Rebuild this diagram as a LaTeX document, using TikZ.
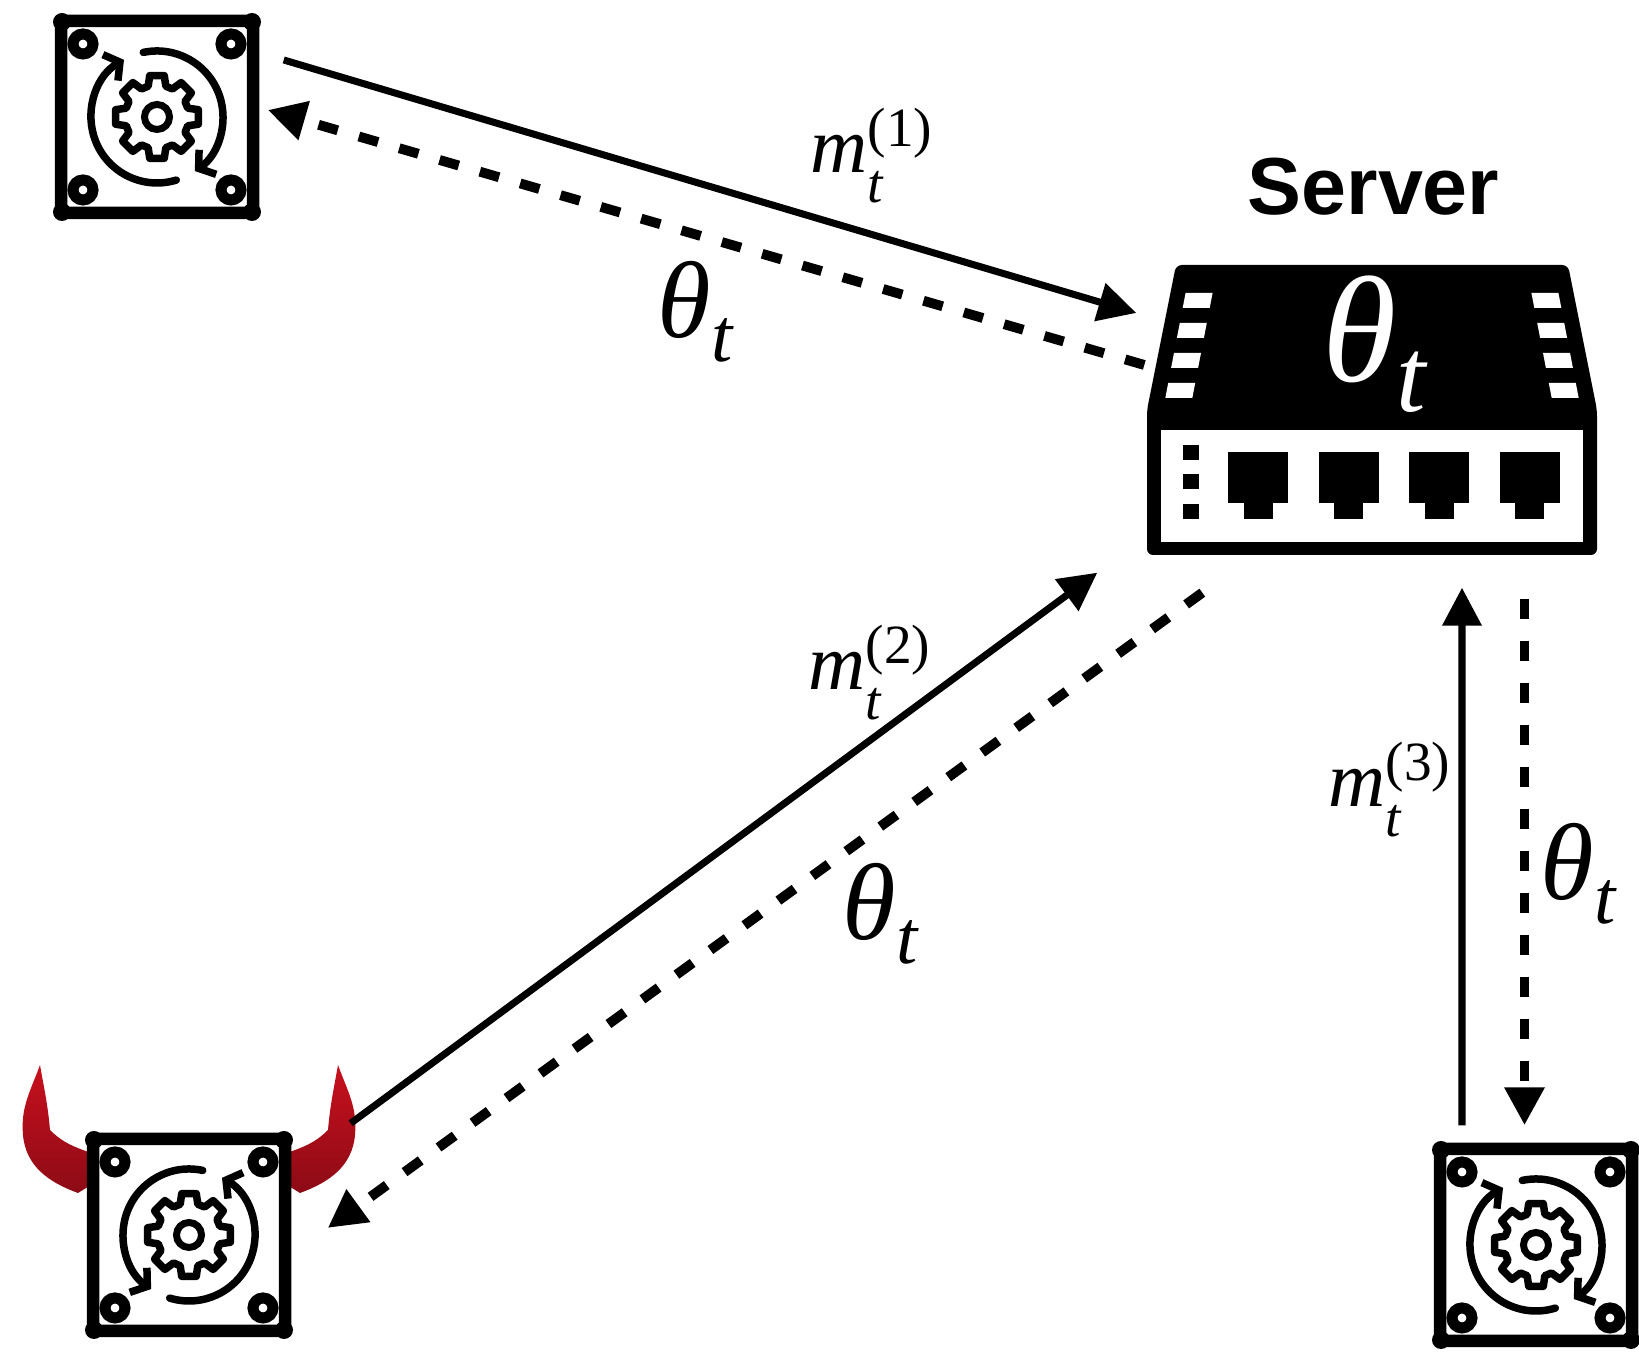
\documentclass[tikz,border=0pt]{standalone}
\usepackage{amsmath}
\usepackage{fontspec}
\setmainfont{Liberation Serif}
\newfontfamily\serverfont{Liberation Sans}
\usetikzlibrary{arrows.meta}

\definecolor{hornred}{HTML}{C8101E}

\newcommand{\subt}[1]{\lower#1em\hbox{$\scriptstyle\textit{t}$}}
\newcommand{\msgt}[1]{$\textit{m}_{\subt{0.14}}^{\textup{(#1)}}$}
\newcommand{\thetat}{$\textit{θ}_{\subt{0.1}}$}

\tikzset{
  msg/.style={line width=2pt, -{Triangle[length=0.38cm,width=0.38cm]}},
  model/.style={line width=2.8pt, dash pattern=on 0.2cm off 0.22cm,
    -{Triangle[length=0.38cm,width=0.38cm]}},
  small lbl/.style={inner sep=0pt, anchor=base west, font=\fontsize{22.5}{22.5}\selectfont},
  big lbl/.style={inner sep=0pt, anchor=base west, font=\fontsize{31}{31}\selectfont},
  device/.style={minimum size=2.05cm, inner sep=0pt},
  spin/.style={line width=0.075cm, line cap=round,
    -{Straight Barb[length=0.11cm,width=0.3cm]}},
  worker/.pic={
    % frame with its four bolts
    \draw[line width=0.125cm, rounded corners=0.04cm] (-0.96,-0.96) rectangle (0.96,0.96);
    \foreach \x in {-1,1} \foreach \y in {-1,1} {
      \fill (0.95*\x,0.95*\y) circle (0.09);
      \draw[line width=0.11cm] (0.74*\x,0.73*\y) circle (0.10);
    }
    % gear
    \draw[line width=0.075cm, line join=round] (-10:0.42)
      \foreach \a in {0,45,...,315} { -- (\a-10:0.42) -- (\a+10:0.42) -- (\a+16:0.32) -- (\a+29:0.32) }
      -- cycle;
    \draw[line width=0.07cm] (0,0) circle (0.125);
    % turning arrows
    \draw[spin] (-73:0.66) arc[start angle=-73, end angle=-240, radius=0.66];
    \draw[spin] (102:0.66) arc[start angle=102, end angle=-55, radius=0.66];
  },
}

\begin{document}
\begin{tikzpicture}
\useasboundingbox (0,0) rectangle (16.39,13.55);

\node (w1) [device] at (1.57,12.38) {};
\node (w2) [device] at (1.89,1.20) {};
\node (w3) [device] at (15.36,1.10) {};
\node (server) [minimum width=4.5cm, minimum height=2.9cm, inner sep=0pt] at (13.72,9.45) {};

% horns on the faulty worker
\foreach \s in {1,-1}
  \shade[shift={(w2.center)}, xscale=\s, top color=hornred, middle color=hornred,
         bottom color=hornred!70!black]
    (-1.49,1.70) to[out=-110, in=95] (-1.66,1.00) to[out=-85, in=160] (-1.11,0.42)
    -- (-0.98,0.50) -- (-0.98,0.82) to[out=160, in=-45] (-1.39,1.05)
    to[out=95, in=-80] (-1.49,1.70) -- cycle;

\pic at (w1) {worker};
\pic[xscale=-1] at (w2) {worker};
\pic at (w3) {worker};

% switch body
\begin{scope}[shift={(server.center)}]
  \fill[rounded corners=0.06cm] (-2.25,-1.45) -- (-2.25,0) -- (-1.96,1.45)
    -- (1.96,1.45) -- (2.25,0) -- (2.25,-1.45) -- cycle;
  \fill[white] (-2.11,-1.32) rectangle (2.11,-0.20);
  \foreach \s in {1,-1}
    \foreach \y in {1.17,0.87,0.57,0.27}
      \fill[white, xscale=\s] (-2.09+0.193*\y,\y) -- (-1.82+0.193*\y,\y)
        -- (-1.849+0.193*\y,\y-0.15) -- (-2.119+0.193*\y,\y-0.15) -- cycle;
  \foreach \y in {-0.425,-0.72,-1.02}
    \fill (-1.89,\y-0.075) rectangle ++(0.16,0.15);
  \foreach \x in {-1.14,-0.235,0.67,1.575} {
    \fill (\x-0.30,-0.42) rectangle (\x+0.30,-0.93);
    \fill (\x-0.145,-0.93) rectangle (\x+0.145,-1.09);
  }
\end{scope}
\node (server theta) [white, inner sep=0pt, anchor=base west, font=\fontsize{43}{43}\selectfont]
  at (13.22,9.73) {\thetat};
\node (server label) [anchor=base west, inner sep=0pt,
  font=\serverfont\bfseries\fontsize{23}{23}\selectfont] at (12.47,11.40) {Server};

% updates and model broadcasts
\draw[msg] ([shift={(0.235,0.57)}]w1.east) -- ([shift={(-0.10,0.97)}]server.west);
\draw[model] ([shift={(-0.02,0.45)}]server.west) -- ([shift={(0.075,0.07)}]w1.east);
\draw[msg] ([shift={(0.585,0.085)}]w2.north east) -- ([shift={(-0.49,-0.17)}]server.south west);
\draw[model] ([shift={(0.56,-0.37)}]server.south west) -- ([shift={(0.355,0.07)}]w2.east);
\draw[msg] ([shift={(-0.74,0.165)}]w3.north) -- ([shift={(0.90,-0.32)}]server.south);
\draw[model] ([shift={(1.525,-0.43)}]server.south) -- ([shift={(-0.115,0.165)}]w3.north);

\node (m1) [small lbl] at (8.10,11.82) {\msgt{1}};
\node (theta1) [big lbl] at (6.57,10.17) {\thetat};
\node (m2) [small lbl] at (8.08,6.65) {\msgt{2}};
\node (theta2) [big lbl] at (8.42,4.15) {\thetat};
\node (m3) [small lbl] at (13.28,5.48) {\msgt{3}};
\node (theta3) [big lbl] at (15.40,4.55) {\thetat};

\end{tikzpicture}
\end{document}
